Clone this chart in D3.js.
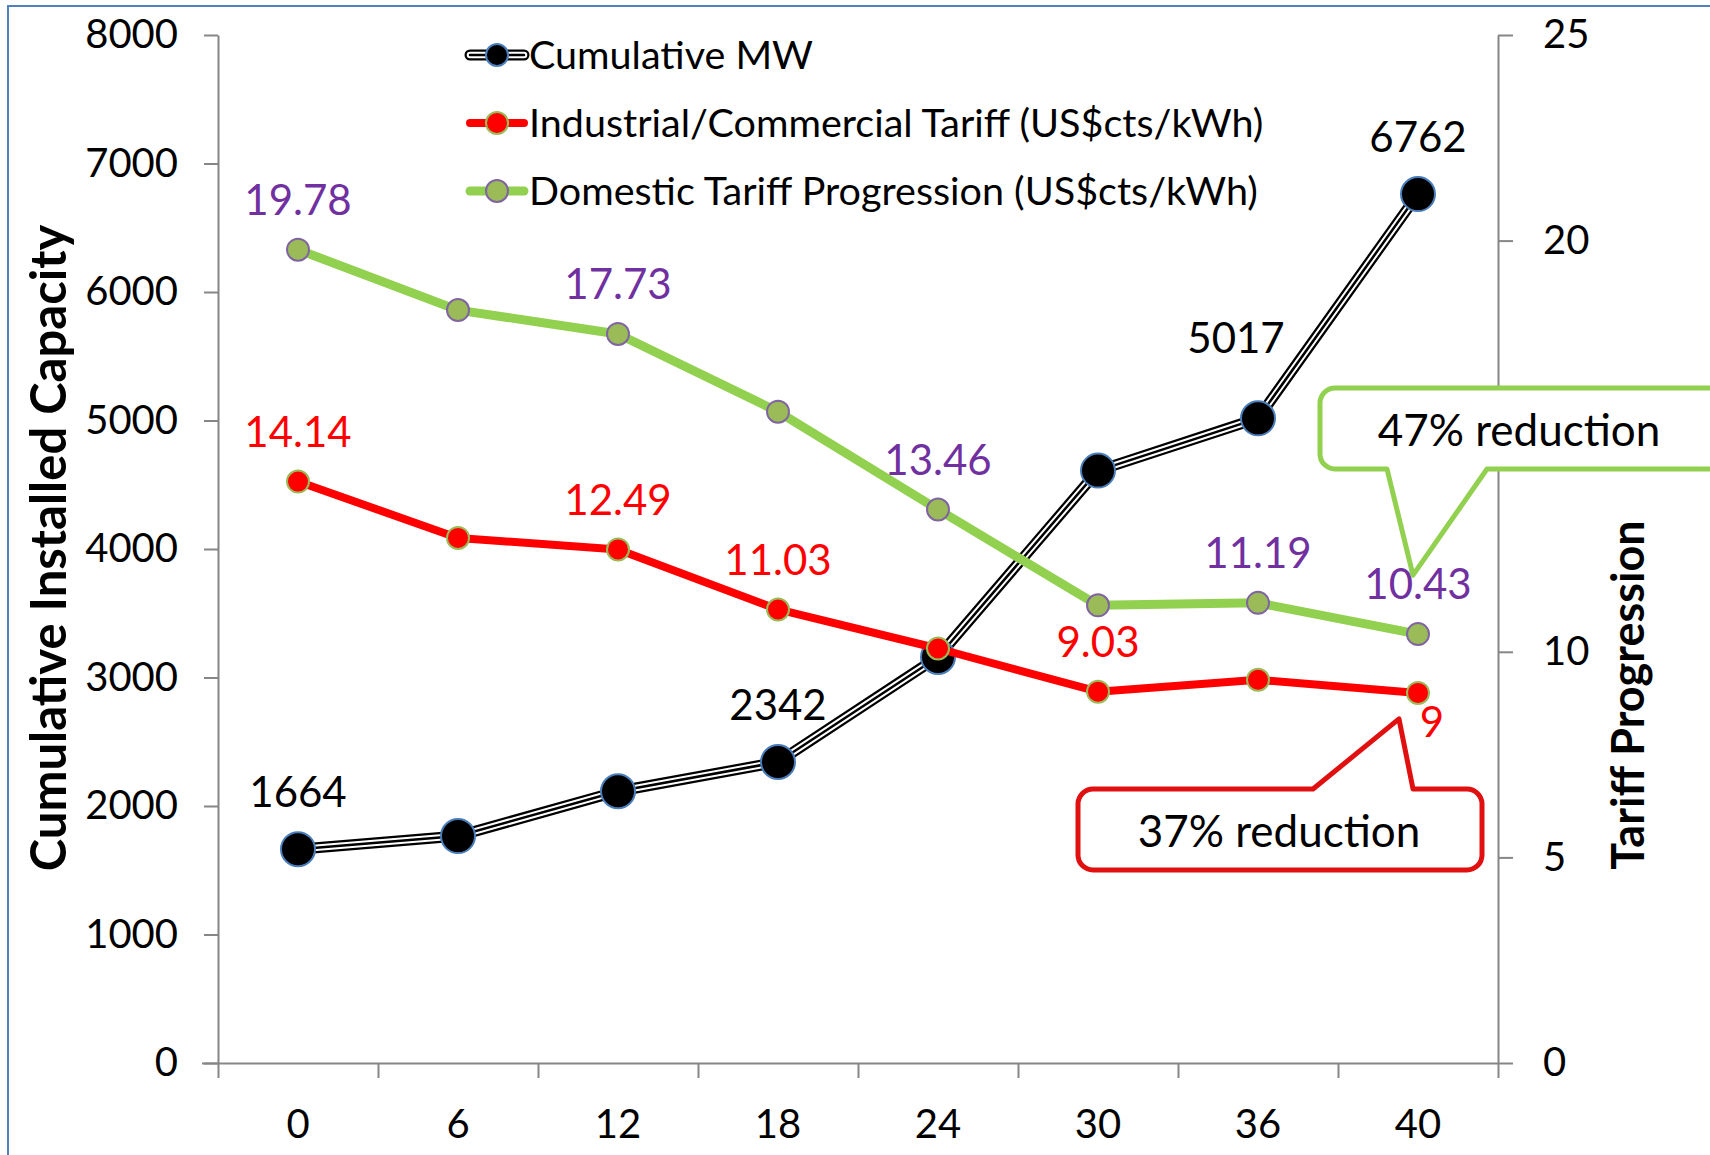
<!DOCTYPE html>
<html>
<head>
<meta charset="utf-8">
<script src="https://cdn.jsdelivr.net/npm/d3@7"></script>
<style>
  body { margin: 0; background: #fff; }
  svg { display: block; font-family: Lato, "Open Sans", sans-serif; }
</style>
</head>
<body>
<svg></svg>
<script>
// chart values
const weeks = ['0', '6', '12', '18', '24', '30', '36', '40'];
const cumulativeMW = [1664, 1766, 2115, 2342, 3160, 4610, 5017, 6762];
const industrialTariff = [14.14, 12.77, 12.49, 11.03, 10.08, 9.03, 9.32, 9];
const domesticTariff = [19.78, 18.31, 17.73, 15.84, 13.46, 11.13, 11.19, 10.43];
const leftTicks = [0, 1000, 2000, 3000, 4000, 5000, 6000, 7000, 8000];
// 15 sits under the "47% reduction" callout in the original, so it is not shown
const rightTicks = [0, 5, 10, 20, 25];
const legendLabels = ['Cumulative MW', 'Industrial/Commercial Tariff (US$cts/kWh)', 'Domestic Tariff Progression (US$cts/kWh)'];
// which points carry a value label
const mwLabelIdx = [0, 3, 6, 7];
const industrialLabelIdx = [0, 2, 3, 5, 7];
const domesticLabelIdx = [0, 2, 4, 6, 7];

const W = 1710, H = 1155;
const plot = {left: 218, right: 1498, top: 35, bottom: 1063};

const svg = d3.select('svg').attr('width', W).attr('height', H);

// outer chart border (cropped on right/bottom)
svg.append('path')
    .attr('d', `M8,${H + 5} V6 H${W + 5}`)
    .attr('fill', 'none')
    .attr('stroke', '#4f81bd')
    .attr('stroke-width', 2);

const xScale = d3.scaleBand().domain(weeks).range([plot.left, plot.right]);
const xEdges = d3.scaleLinear().domain([0, weeks.length]).range([plot.left, plot.right]);
const yLeft = d3.scaleLinear().domain([0, 8000]).range([plot.bottom, plot.top]);
const yRight = d3.scaleLinear().domain([0, 25]).range([plot.bottom, plot.top]);
const cx = (d, i) => xScale(weeks[i]) + xScale.bandwidth() / 2;

const axisGrey = '#868686';

function styleAxis(g) {
    g.selectAll('path, line').attr('stroke', axisGrey).attr('stroke-width', 2);
    g.selectAll('text').attr('font-size', 40).attr('fill', '#000').attr('font-family', 'Lato');
}

// left axis
svg.append('g')
    .attr('transform', `translate(${plot.left},0)`)
    .call(d3.axisLeft(yLeft).tickValues(leftTicks).tickFormat(d3.format('d'))
        .tickSize(14).tickSizeOuter(0).tickPadding(26))
    .call(styleAxis);

// right axis
svg.append('g')
    .attr('transform', `translate(${plot.right},0)`)
    .call(d3.axisRight(yRight).tickValues(rightTicks).tickSize(15).tickSizeOuter(0).tickPadding(30))
    .call(styleAxis);

// bottom axis: ticks at category edges, labels at centres
svg.append('g')
    .attr('transform', `translate(0,${plot.bottom})`)
    .call(d3.axisBottom(xEdges).tickValues(d3.range(weeks.length + 1)).tickFormat('').tickSize(15).tickSizeOuter(0))
    .call(styleAxis)
    .call(g => g.select('.domain').attr('d', `M${plot.left - 16},0.5H${plot.right}`));

svg.append('g')
    .attr('transform', `translate(0,${plot.bottom})`)
    .call(d3.axisBottom(xScale).tickSize(0).tickPadding(47))
    .call(g => g.select('.domain').remove())
    .call(styleAxis);

// axis titles
svg.append('text')
    .attr('transform', 'translate(53,548) rotate(-90)')
    .attr('text-anchor', 'middle')
    .attr('dominant-baseline', 'middle')
    .attr('font-size', 49)
    .attr('font-weight', 'bold')
    .text('Cumulative Installed Capacity');

svg.append('text')
    .attr('transform', 'translate(1632,695) rotate(-90)')
    .attr('text-anchor', 'middle')
    .attr('dominant-baseline', 'middle')
    .attr('font-size', 45)
    .attr('font-weight', 'bold')
    .text('Tariff Progression');

// lines
const mwLine = d3.line().x(cx).y(d => yLeft(d));
const tariffLine = d3.line().x(cx).y(d => yRight(d));

// cumulative MW: compound black/white/black line
[[11, '#000'], [6.5, '#fff'], [2.5, '#000']].forEach(([w, c]) => {
    svg.append('path')
        .attr('d', mwLine(cumulativeMW))
        .attr('fill', 'none')
        .attr('stroke', c)
        .attr('stroke-width', w)
        .attr('stroke-linejoin', 'round');
});
svg.selectAll('.mw-pt')
    .data(cumulativeMW)
    .enter()
    .append('circle')
    .attr('cx', cx)
    .attr('cy', d => yLeft(d))
    .attr('r', 17)
    .attr('fill', '#000')
    .attr('stroke', '#4a7ebb')
    .attr('stroke-width', 2);

// industrial tariff
svg.append('path')
    .attr('d', tariffLine(industrialTariff))
    .attr('fill', 'none')
    .attr('stroke', '#ff0000')
    .attr('stroke-width', 8)
    .attr('stroke-linejoin', 'round');
svg.selectAll('.ind-pt')
    .data(industrialTariff)
    .enter()
    .append('circle')
    .attr('cx', cx)
    .attr('cy', d => yRight(d))
    .attr('r', 11)
    .attr('fill', '#ff0000')
    .attr('stroke', '#9bbb59')
    .attr('stroke-width', 2);

// domestic tariff
svg.append('path')
    .attr('d', tariffLine(domesticTariff))
    .attr('fill', 'none')
    .attr('stroke', '#92d050')
    .attr('stroke-width', 9)
    .attr('stroke-linejoin', 'round');
svg.selectAll('.dom-pt')
    .data(domesticTariff)
    .enter()
    .append('circle')
    .attr('cx', cx)
    .attr('cy', d => yRight(d))
    .attr('r', 11)
    .attr('fill', '#9bbb59')
    .attr('stroke', '#8064a2')
    .attr('stroke-width', 2);

// value labels
function addLabels(values, idx, y, color, offset) {
    svg.append('g')
        .selectAll('text')
        .data(idx)
        .enter()
        .append('text')
        .attr('x', i => cx(null, i) + offset(i)[0])
        .attr('y', i => y(values[i]) + offset(i)[1])
        .attr('text-anchor', 'middle')
        .attr('dy', '0.36em')
        .attr('font-size', 42)
        .attr('fill', color)
        .text(i => values[i]);
}
addLabels(cumulativeMW, mwLabelIdx, yLeft, '#000', i => i === 6 ? [-22, -80] : [0, -57]);
addLabels(industrialTariff, industrialLabelIdx, yRight, '#ff0000', i => i === 7 ? [14, 29] : [0, -50]);
addLabels(domesticTariff, domesticLabelIdx, yRight, '#7030a0', () => [0, -50]);

// legend
const legendItems = [
    {label: legendLabels[0], kind: 'mw'},
    {label: legendLabels[1], kind: 'ind'},
    {label: legendLabels[2], kind: 'dom'}
];
const legend = svg.append('g').attr('transform', 'translate(466,55)');
legendItems.forEach((item, k) => {
    const row = legend.append('g').attr('transform', `translate(0,${k * 68})`);
    if (item.kind === 'mw') {
        [[11, '#000'], [6.5, '#fff'], [2.5, '#000']].forEach(([w, c]) => {
            row.append('line').attr('x1', 4).attr('x2', 58).attr('stroke', c)
                .attr('stroke-width', w).attr('stroke-linecap', 'round');
        });
        row.append('circle').attr('cx', 31).attr('r', 11).attr('fill', '#000')
            .attr('stroke', '#4a7ebb').attr('stroke-width', 2);
    } else if (item.kind === 'ind') {
        row.append('line').attr('x1', 4).attr('x2', 58).attr('stroke', '#ff0000')
            .attr('stroke-width', 8).attr('stroke-linecap', 'round');
        row.append('circle').attr('cx', 31).attr('r', 11).attr('fill', '#ff0000')
            .attr('stroke', '#9bbb59').attr('stroke-width', 2);
    } else {
        row.append('line').attr('x1', 4).attr('x2', 58).attr('stroke', '#92d050')
            .attr('stroke-width', 9).attr('stroke-linecap', 'round');
        row.append('circle').attr('cx', 31).attr('r', 11).attr('fill', '#9bbb59')
            .attr('stroke', '#8064a2').attr('stroke-width', 2);
    }
    row.append('text')
        .attr('x', 63)
        .attr('dy', '0.36em')
        .attr('font-size', 39.5)
        .text(item.label);
});

// callouts
function calloutPath(b, tip, base, side) {
    const r = 15;
    if (side === 'bottom') {
        return `M${b.x0 + r},${b.y0} H${b.x1 - r} A${r},${r} 0 0 1 ${b.x1},${b.y0 + r}` +
            ` V${b.y1 - r} A${r},${r} 0 0 1 ${b.x1 - r},${b.y1} H${base[1]} L${tip[0]},${tip[1]} L${base[0]},${b.y1}` +
            ` H${b.x0 + r} A${r},${r} 0 0 1 ${b.x0},${b.y1 - r} V${b.y0 + r} A${r},${r} 0 0 1 ${b.x0 + r},${b.y0} Z`;
    }
    return `M${b.x0 + r},${b.y0} H${base[0]} L${tip[0]},${tip[1]} L${base[1]},${b.y0} H${b.x1 - r}` +
        ` A${r},${r} 0 0 1 ${b.x1},${b.y0 + r} V${b.y1 - r} A${r},${r} 0 0 1 ${b.x1 - r},${b.y1}` +
        ` H${b.x0 + r} A${r},${r} 0 0 1 ${b.x0},${b.y1 - r} V${b.y0 + r} A${r},${r} 0 0 1 ${b.x0 + r},${b.y0} Z`;
}

const last = weeks.length - 1;
const domTip = [cx(null, last) - 5, yRight(domesticTariff[last]) - 59];
const indTip = [cx(null, last) - 19, yRight(industrialTariff[last]) + 26];

svg.append('path')
    .attr('d', calloutPath({x0: 1320, y0: 388, x1: 1770, y1: 469}, domTip, [1387, 1487], 'bottom'))
    .attr('fill', '#fff')
    .attr('stroke', '#92d050')
    .attr('stroke-width', 5)
    .attr('stroke-linejoin', 'round');
svg.append('text')
    .attr('x', 1519).attr('y', 430)
    .attr('text-anchor', 'middle')
    .attr('dy', '0.36em')
    .attr('font-size', 44)
    .text('47% reduction');

svg.append('path')
    .attr('d', calloutPath({x0: 1078, y0: 789, x1: 1482, y1: 870}, indTip, [1313, 1413], 'top'))
    .attr('fill', '#fff')
    .attr('stroke', '#e01010')
    .attr('stroke-width', 5)
    .attr('stroke-linejoin', 'round');
svg.append('text')
    .attr('x', 1279).attr('y', 831)
    .attr('text-anchor', 'middle')
    .attr('dy', '0.36em')
    .attr('font-size', 44)
    .text('37% reduction');
</script>
</body>
</html>
